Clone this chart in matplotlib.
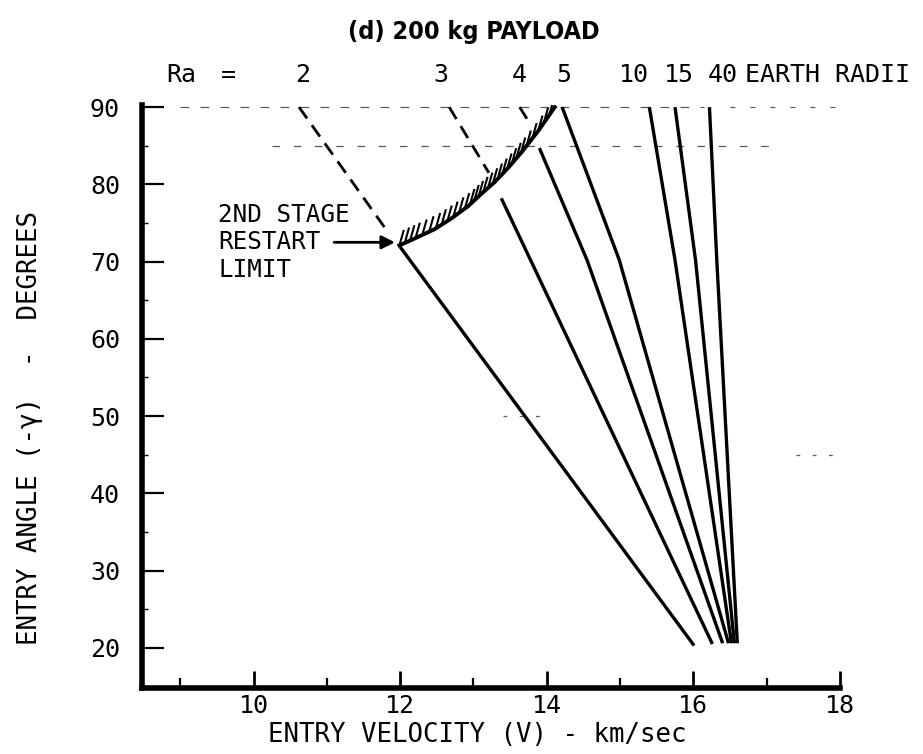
import numpy as np
import matplotlib.pyplot as plt
from matplotlib.ticker import MultipleLocator
from matplotlib.collections import LineCollection

plt.rcParams['font.family'] = ['DejaVu Sans Mono']
plt.rcParams['font.size'] = 18

# ------------------ DATA ------------------

# dashed parts of the trajectories (above the restart limit)
ra2_dash_v = [10.62, 11.82]
ra2_dash_gamma = [90.0, 74.0]
ra3_dash_v = [12.67, 13.21]
ra3_dash_gamma = [90.0, 81.5]
ra4_dash_v = [13.63, 13.73]
ra4_dash_gamma = [90.0, 88.5]

# solid parts
ra2_v = [12.00, 16.01]
ra2_gamma = [71.9, 20.3]
ra3_v = [13.38, 16.26]
ra3_gamma = [78.2, 20.5]
ra4_v = [13.90, 14.55, 16.40]
ra4_gamma = [84.7, 70.2, 20.6]
ra5_v = [14.21, 14.99, 16.48]
ra5_gamma = [90.0, 70.2, 20.6]
ra10_v = [15.40, 15.75, 16.52]
ra10_gamma = [90.0, 70.2, 20.6]
ra15_v = [15.75, 16.03, 16.56]
ra15_gamma = [90.0, 70.2, 20.6]
ra40_v = [16.22, 16.32, 16.60]
ra40_gamma = [90.0, 70.2, 20.6]

# 2nd stage restart limit
limit_v = [11.99, 12.20, 12.47, 12.70, 12.93, 13.10, 13.29, 13.48, 13.66, 13.89, 14.11]
limit_gamma = [72.1, 73.0, 74.2, 75.6, 77.2, 78.7, 80.3, 82.2, 84.2, 87.0, 90.0]

# Ra labels along the top
ra_labels = ["2", "3", "4", "5", "10", "15", "40"]
ra_label_v = [10.67, 12.56, 13.62, 14.23, 15.19, 15.81, 16.40]

x_ticks = [10, 12, 14, 16, 18]
y_ticks = [20, 30, 40, 50, 60, 70, 80, 90]

# ------------------ PLOT ------------------

fig = plt.figure(figsize=(9.23, 7.54), dpi=100)
ax = fig.add_axes([0.154, 0.0875, 0.756, 0.7735])

# faint graph-paper dashes near the top
ax.plot([9.0, 16.15], [90, 90], color='0.35', lw=0.9, dashes=(7, 9))
ax.plot([16.5, 18.0], [90, 90], color='0.35', lw=0.9, dashes=(4, 12))
ax.plot([10.25, 17.2], [85, 85], color='0.35', lw=0.9, dashes=(6, 11))
ax.plot([13.4, 14.0], [50, 50], color='0.35', lw=0.9, dashes=(3, 10))
ax.plot([17.4, 17.9], [45, 45], color='0.35', lw=0.9, dashes=(3, 10))

for v, g in [(ra2_dash_v, ra2_dash_gamma), (ra3_dash_v, ra3_dash_gamma),
             (ra4_dash_v, ra4_dash_gamma)]:
    ax.plot(v, g, color='black', lw=2.0, dashes=(5, 3))

for v, g in [(ra2_v, ra2_gamma), (ra3_v, ra3_gamma), (ra4_v, ra4_gamma),
             (ra5_v, ra5_gamma), (ra10_v, ra10_gamma), (ra15_v, ra15_gamma),
             (ra40_v, ra40_gamma)]:
    ax.plot(v, g, color='black', lw=2.4, solid_capstyle='butt')

# restart limit with hatching on the upper-left side
ax.plot(limit_v, limit_gamma, color='black', lw=2.8)
t = np.linspace(0, 1, 30)
s = np.linspace(0, 1, len(limit_v))
hv = np.interp(t, s, limit_v)
hg = np.interp(t, s, limit_gamma)
segs = [[(a, b), (a + 0.06, b + 2.0)] for a, b in zip(hv[:-1], hg[:-1])]
ax.add_collection(LineCollection(segs, colors='black', linewidths=1.5))

ax.annotate("", xy=(11.93, 72.5), xytext=(11.10, 72.5),
            arrowprops=dict(arrowstyle='-|>', color='black', lw=2.0,
                            mutation_scale=20, shrinkA=0, shrinkB=0))
ax.text(9.52, 72.5, "2ND STAGE\nRESTART\nLIMIT", ha='left', va='center',
        fontsize=17.5, linespacing=1.2)

# Ra labels
ax.text(9.01, 94.1, "Ra", ha='center', va='center', clip_on=False)
ax.text(9.66, 94.1, "=", ha='center', va='center', clip_on=False)
for lab, v in zip(ra_labels, ra_label_v):
    ax.text(v, 94.1, lab, ha='center', va='center', clip_on=False)
ax.text(16.71, 94.1, "EARTH RADII", ha='left', va='center', clip_on=False)

ax.set_xlim(8.48, 18.0)
ax.set_ylim(14.8, 90.3)

for side in ['top', 'right']:
    ax.spines[side].set_visible(False)
for side in ['left', 'bottom']:
    ax.spines[side].set_linewidth(4)

ax.set_xticks(x_ticks)
ax.set_yticks(y_ticks)
ax.xaxis.set_minor_locator(MultipleLocator(1))
ax.yaxis.set_minor_locator(MultipleLocator(5))
ax.tick_params(axis='x', which='major', direction='in', length=12, width=2,
               pad=4, labelsize=18)
ax.tick_params(axis='x', which='minor', direction='in', length=7, width=1.6)
ax.tick_params(axis='y', which='major', direction='in', length=16, width=1.6,
               pad=16, labelsize=18)
ax.tick_params(axis='y', which='minor', direction='in', length=4, width=1.0)

ax.set_xlabel("ENTRY VELOCITY (V) - km/sec", fontsize=18.5)
ax.xaxis.set_label_coords(0.48, -0.058)
fig.text(0.033, 0.432, "ENTRY ANGLE (-\u03b3)  -  DEGREES", rotation=90,
         ha='center', va='center', fontsize=18.5)

fig.text(0.513, 0.958, "(d) 200 kg PAYLOAD", ha='center', va='center',
         fontsize=18, fontweight='bold', family='DejaVu Sans',
         stretch='condensed')

fig.savefig("out.png", dpi=100)
